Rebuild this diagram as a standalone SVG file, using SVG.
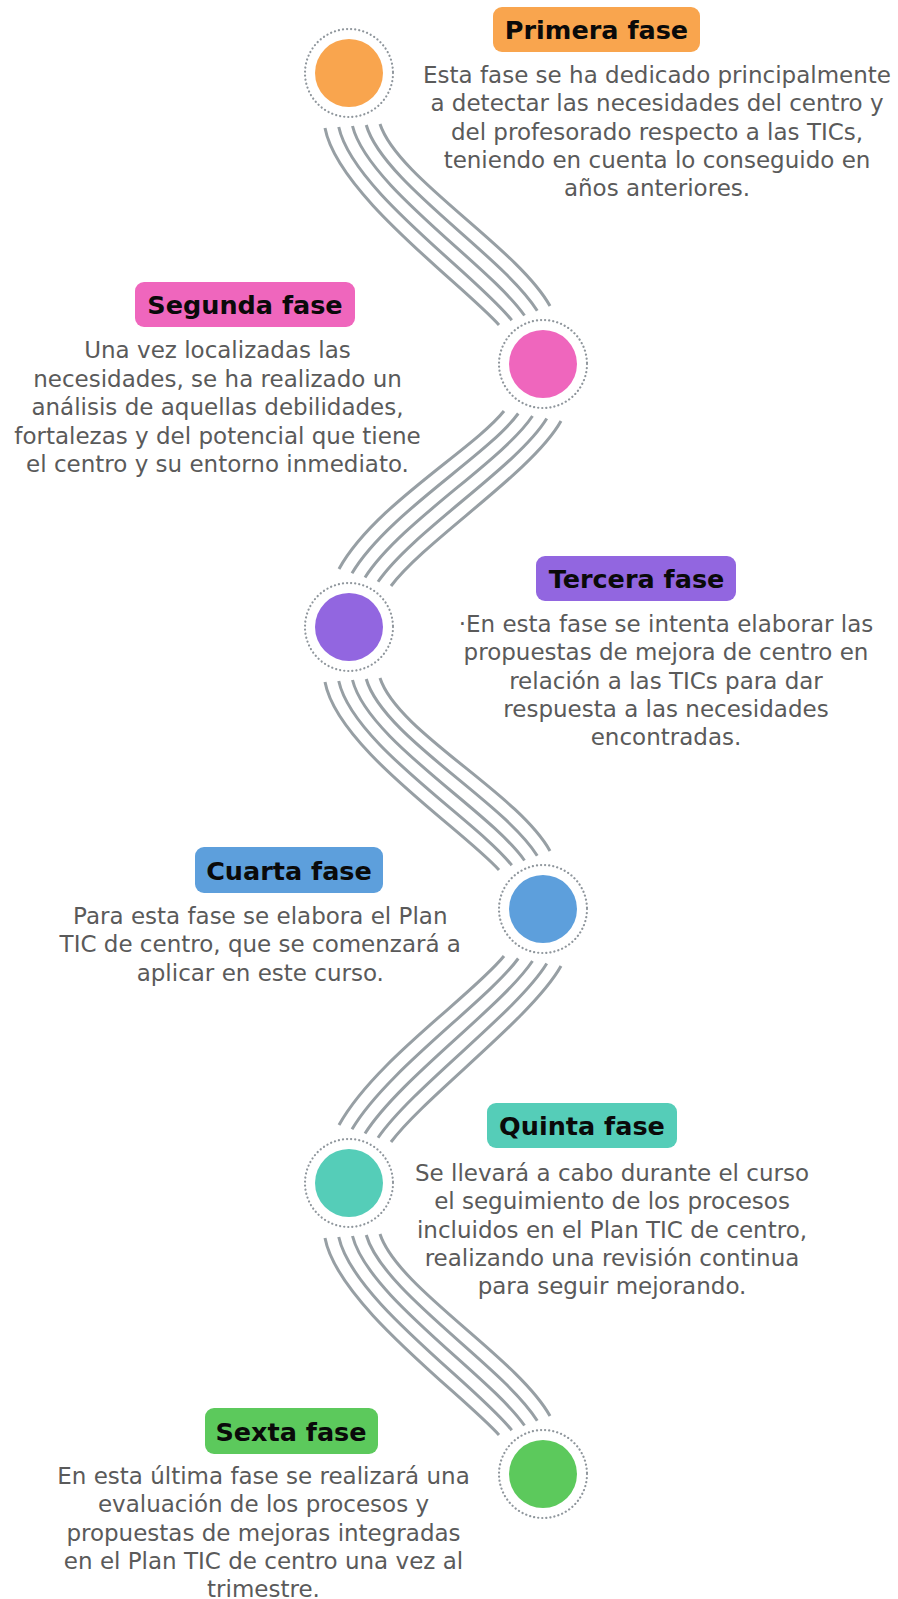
<svg xmlns="http://www.w3.org/2000/svg" width="898" height="1599" viewBox="0 0 898 1599">
<style>
.conn path{fill:none;stroke:#979fa4;stroke-width:3;stroke-linecap:butt}
.ring{fill:#fff;stroke:#8f969c;stroke-width:2.2;stroke-dasharray:0.1 4;stroke-linecap:round}
.title{font-family:"DejaVu Sans",sans-serif;font-weight:bold;font-size:25.5px;fill:#0a0a0a;text-anchor:middle}
.body{font-family:"DejaVu Sans",sans-serif;font-size:23px;fill:#5a5a5a;text-anchor:middle}
</style>
<rect width="898" height="1599" fill="#fff"/>
<g id="connectors" class="conn">
<path d="M325,128 C337.5,194 461.5,283.5 499,325"/>
<path d="M338.75,127 C352.5,190 475.5,274.5 511.75,320.25"/>
<path d="M352.5,126 C367.5,186 489.5,265.5 524.5,315.5"/>
<path d="M366.25,125 C382.5,182 503.5,256.5 537.25,310.75"/>
<path d="M380,124 C397.5,178 517.5,247.5 550,306"/>
<path d="M504,411 C472.5,450 374,505.5 339,569"/>
<path d="M518.25,413.5 C487.5,455.5 387,514 352,573.25"/>
<path d="M532.5,416 C502.5,461 400,522.5 365,577.5"/>
<path d="M546.75,418.5 C517.5,466.5 413,531 378,581.75"/>
<path d="M561,421 C532.5,472 426,539.5 391,586"/>
<path d="M325,682 C337.5,748 461.5,828.5 499,870"/>
<path d="M338.75,681 C352.5,744 475.5,819.5 511.75,865.25"/>
<path d="M352.5,680 C367.5,740 489.5,810.5 524.5,860.5"/>
<path d="M366.25,679 C382.5,736 503.5,801.5 537.25,855.75"/>
<path d="M380,678 C397.5,732 517.5,792.5 550,851"/>
<path d="M504,956 C472.5,995 374,1061.5 339,1125"/>
<path d="M518.25,958.5 C487.5,1000.5 387,1070 352,1129.25"/>
<path d="M532.5,961 C502.5,1006 400,1078.5 365,1133.5"/>
<path d="M546.75,963.5 C517.5,1011.5 413,1087 378,1137.75"/>
<path d="M561,966 C532.5,1017 426,1095.5 391,1142"/>
<path d="M325,1238 C337.5,1304 461.5,1393.5 499,1435"/>
<path d="M338.75,1237 C352.5,1300 475.5,1384.5 511.75,1430.25"/>
<path d="M352.5,1236 C367.5,1296 489.5,1375.5 524.5,1425.5"/>
<path d="M366.25,1235 C382.5,1292 503.5,1366.5 537.25,1420.75"/>
<path d="M380,1234 C397.5,1288 517.5,1357.5 550,1416"/>
</g>
<g id="fase1">
<circle class="ring" cx="349" cy="73" r="44"/>
<circle cx="349" cy="73" r="34" fill="#f9a54e"/>
<rect x="493" y="7" width="207" height="45" rx="9" fill="#f9a54e"/>
<text class="title" x="596.5" y="39">Primera fase</text>
<text class="body"><tspan x="657" y="83">Esta fase se ha dedicado principalmente</tspan><tspan x="657" y="111.25">a detectar las necesidades del centro y</tspan><tspan x="657" y="139.5">del profesorado respecto a las TICs,</tspan><tspan x="657" y="167.75">teniendo en cuenta lo conseguido en</tspan><tspan x="657" y="196">años anteriores.</tspan></text>
</g>
<g id="fase2">
<circle class="ring" cx="543" cy="364" r="44"/>
<circle cx="543" cy="364" r="34" fill="#ef66bd"/>
<rect x="135" y="282" width="220" height="45" rx="9" fill="#ef66bd"/>
<text class="title" x="245" y="314">Segunda fase</text>
<text class="body"><tspan x="217.5" y="358">Una vez localizadas las</tspan><tspan x="217.5" y="386.5">necesidades, se ha realizado un</tspan><tspan x="217.5" y="415">análisis de aquellas debilidades,</tspan><tspan x="217.5" y="443.5">fortalezas y del potencial que tiene</tspan><tspan x="217.5" y="472">el centro y su entorno inmediato.</tspan></text>
</g>
<g id="fase3">
<circle class="ring" cx="349" cy="627" r="44"/>
<circle cx="349" cy="627" r="34" fill="#9266e0"/>
<rect x="536" y="556" width="200" height="45" rx="9" fill="#9266e0"/>
<text class="title" x="636.5" y="588">Tercera fase</text>
<text class="body"><tspan x="666" y="632">·En esta fase se intenta elaborar las</tspan><tspan x="666" y="660.25">propuestas de mejora de centro en</tspan><tspan x="666" y="688.5">relación a las TICs para dar</tspan><tspan x="666" y="716.75">respuesta a las necesidades</tspan><tspan x="666" y="745">encontradas.</tspan></text>
</g>
<g id="fase4">
<circle class="ring" cx="543" cy="909" r="44"/>
<circle cx="543" cy="909" r="34" fill="#5d9fdc"/>
<rect x="195" y="847" width="188" height="46" rx="9" fill="#5d9fdc"/>
<text class="title" x="289" y="879.5">Cuarta fase</text>
<text class="body"><tspan x="260.3" y="924">Para esta fase se elabora el Plan</tspan><tspan x="260.3" y="952.25">TIC de centro, que se comenzará a</tspan><tspan x="260.3" y="980.5">aplicar en este curso.</tspan></text>
</g>
<g id="fase5">
<circle class="ring" cx="349" cy="1183" r="44"/>
<circle cx="349" cy="1183" r="34" fill="#55cdb8"/>
<rect x="487" y="1103" width="190" height="45" rx="9" fill="#55cdb8"/>
<text class="title" x="582" y="1135">Quinta fase</text>
<text class="body"><tspan x="612" y="1181">Se llevará a cabo durante el curso</tspan><tspan x="612" y="1209.25">el seguimiento de los procesos</tspan><tspan x="612" y="1237.5">incluidos en el Plan TIC de centro,</tspan><tspan x="612" y="1265.75">realizando una revisión continua</tspan><tspan x="612" y="1294">para seguir mejorando.</tspan></text>
</g>
<g id="fase6">
<circle class="ring" cx="543" cy="1474" r="44"/>
<circle cx="543" cy="1474" r="34" fill="#5cc95c"/>
<rect x="205" y="1408" width="173" height="46" rx="9" fill="#5cc95c"/>
<text class="title" x="291" y="1440.5">Sexta fase</text>
<text class="body"><tspan x="263.5" y="1484">En esta última fase se realizará una</tspan><tspan x="263.5" y="1512.25">evaluación de los procesos y</tspan><tspan x="263.5" y="1540.5">propuestas de mejoras integradas</tspan><tspan x="263.5" y="1568.75">en el Plan TIC de centro una vez al</tspan><tspan x="263.5" y="1597">trimestre.</tspan></text>
</g>
</svg>
